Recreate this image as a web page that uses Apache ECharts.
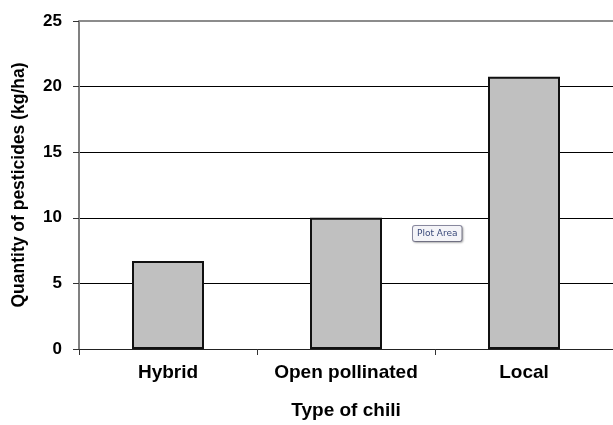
<!DOCTYPE html>
<html><head><meta charset="utf-8">
<script src="https://cdn.jsdelivr.net/npm/echarts@6/dist/echarts.min.js"></script>
<style>html,body{margin:0;padding:0;background:#fff;overflow:hidden}#c{width:613px;height:425px}</style>
</head><body><div id="c"></div>
<script>
const categories = ["Hybrid", "Open pollinated", "Local"];
const values = [6.7, 10.0, 20.75];
const yTicks = [0, 5, 10, 15, 20, 25];
const chart = echarts.init(document.getElementById('c'), null, {renderer: 'canvas'});
const F = '"Liberation Sans", Arial, sans-serif';
chart.setOption({
  animation: false,
  grid: {left: 79, right: -3, top: 21, height: 333, containLabel: false},
  xAxis: {
    type: 'category', data: categories,
    name: 'Type of chili', nameLocation: 'middle', nameGap: 52,
    nameTextStyle: {fontFamily: F, fontWeight: 'bold', fontSize: 19, color: '#000'},
    axisLine: {lineStyle: {color: '#222', width: 1}},
    axisTick: {show: true, length: 6, interval: 0, lineStyle: {color: '#333'}},
    axisLabel: {interval: 0, hideOverlap: false, fontFamily: F, fontWeight: 'bold', fontSize: 19, color: '#000', margin: 14}
  },
  yAxis: {
    type: 'value', min: 0, max: 25, interval: 5,
    name: 'Quantity of pesticides (kg/ha)', nameLocation: 'middle', nameGap: 51,
    nameTextStyle: {fontFamily: F, fontWeight: 'bold', fontSize: 17.5, color: '#000'},
    axisLine: {show: true, lineStyle: {color: '#808080', width: 2}},
    axisTick: {show: true, length: 6, inside: false, lineStyle: {color: '#333'}},
    axisLabel: {fontFamily: F, fontWeight: 'bold', fontSize: 17, color: '#000', margin: 17,
      formatter: v => yTicks.includes(v) ? String(v) : ''},
    splitLine: {show: true, lineStyle: {color: '#000', width: 1}}
  },
  series: [{
    type: 'bar', data: values, barWidth: 72,
    itemStyle: {color: '#c0c0c0', borderColor: '#111', borderWidth: 2}
  }],
  graphic: [
    {type: 'line', shape: {x1: 79, y1: 21, x2: 613, y2: 21}, style: {stroke: '#8c8c8c', lineWidth: 2}, z: 10},
    {type: 'text', left: 412, top: 225, z: 20,
      style: {text: 'Plot Area', fontFamily: '"DejaVu Sans", sans-serif', fontSize: 9, fill: '#3a4a7a',
        backgroundColor: '#f4f4f8', borderColor: '#8a8aa0', borderWidth: 1, borderRadius: 2,
        padding: [3, 4], shadowColor: 'rgba(0,0,0,0.25)', shadowBlur: 2, shadowOffsetX: 1, shadowOffsetY: 1}}
  ]
});
</script></body></html>
